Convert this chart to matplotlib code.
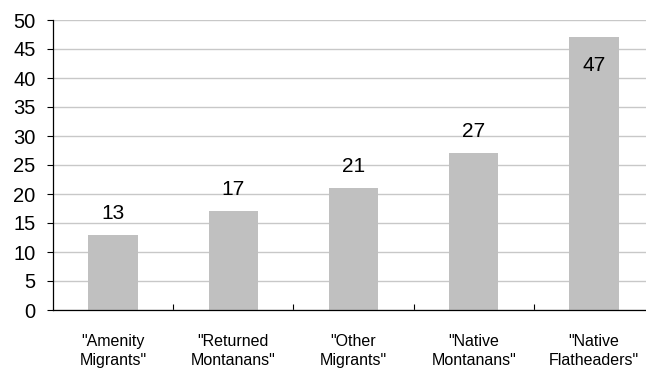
import matplotlib
matplotlib.use("Agg")
import matplotlib.pyplot as plt
import numpy as np

# survey groups and their scores
groups = ['"Amenity\nMigrants"', '"Returned\nMontanans"', '"Other\nMigrants"',
          '"Native\nMontanans"', '"Native\nFlatheaders"']
values = [13, 17, 21, 27, 47]
y_ticks = [0, 5, 10, 15, 20, 25, 30, 35, 40, 45, 50]

plt.rcParams['font.family'] = ['Liberation Sans', 'DejaVu Sans']

fig = plt.figure(figsize=(6.46, 3.69), dpi=100)
ax = fig.add_axes([53 / 646, 59 / 369, 601 / 646, 290 / 369])

x = np.arange(len(values))
ax.bar(x, values, width=0.41, color='#c0c0c0', zorder=2)

ax.set_xlim(-0.5, len(values) - 0.5)
ax.set_ylim(0, 50)
ax.set_yticks(y_ticks)
ax.yaxis.grid(True, color='#c8c8c8', linewidth=1.0, zorder=0)
ax.set_axisbelow(True)

ax.set_xticks(x)
ax.set_xticklabels(groups, fontsize=11.5, linespacing=1.3)
ax.set_xticks(np.arange(0.5, len(values) - 0.5), minor=True)
ax.tick_params(axis='x', which='major', length=0, pad=17.5)
ax.tick_params(axis='x', which='minor', direction='in', length=4, width=0.8, color='black')
ax.tick_params(axis='y', direction='out', length=4, width=0.8, labelsize=14.5, pad=8.5)

for side in ['top', 'right']:
    ax.spines[side].set_visible(False)
for side in ['left', 'bottom']:
    ax.spines[side].set_color('black')
    ax.spines[side].set_linewidth(0.9)

# value labels; the tallest one doesn't fit above the plot so goes inside
for xi, v in zip(x, values):
    if v > 45:
        ax.annotate(str(v), (xi, v), xytext=(0, -24), textcoords='offset points',
                    ha='center', va='baseline', fontsize=15)
    else:
        ax.annotate(str(v), (xi, v), xytext=(0, 11.5), textcoords='offset points',
                    ha='center', va='baseline', fontsize=15)

fig.savefig('out.png', dpi=100)
